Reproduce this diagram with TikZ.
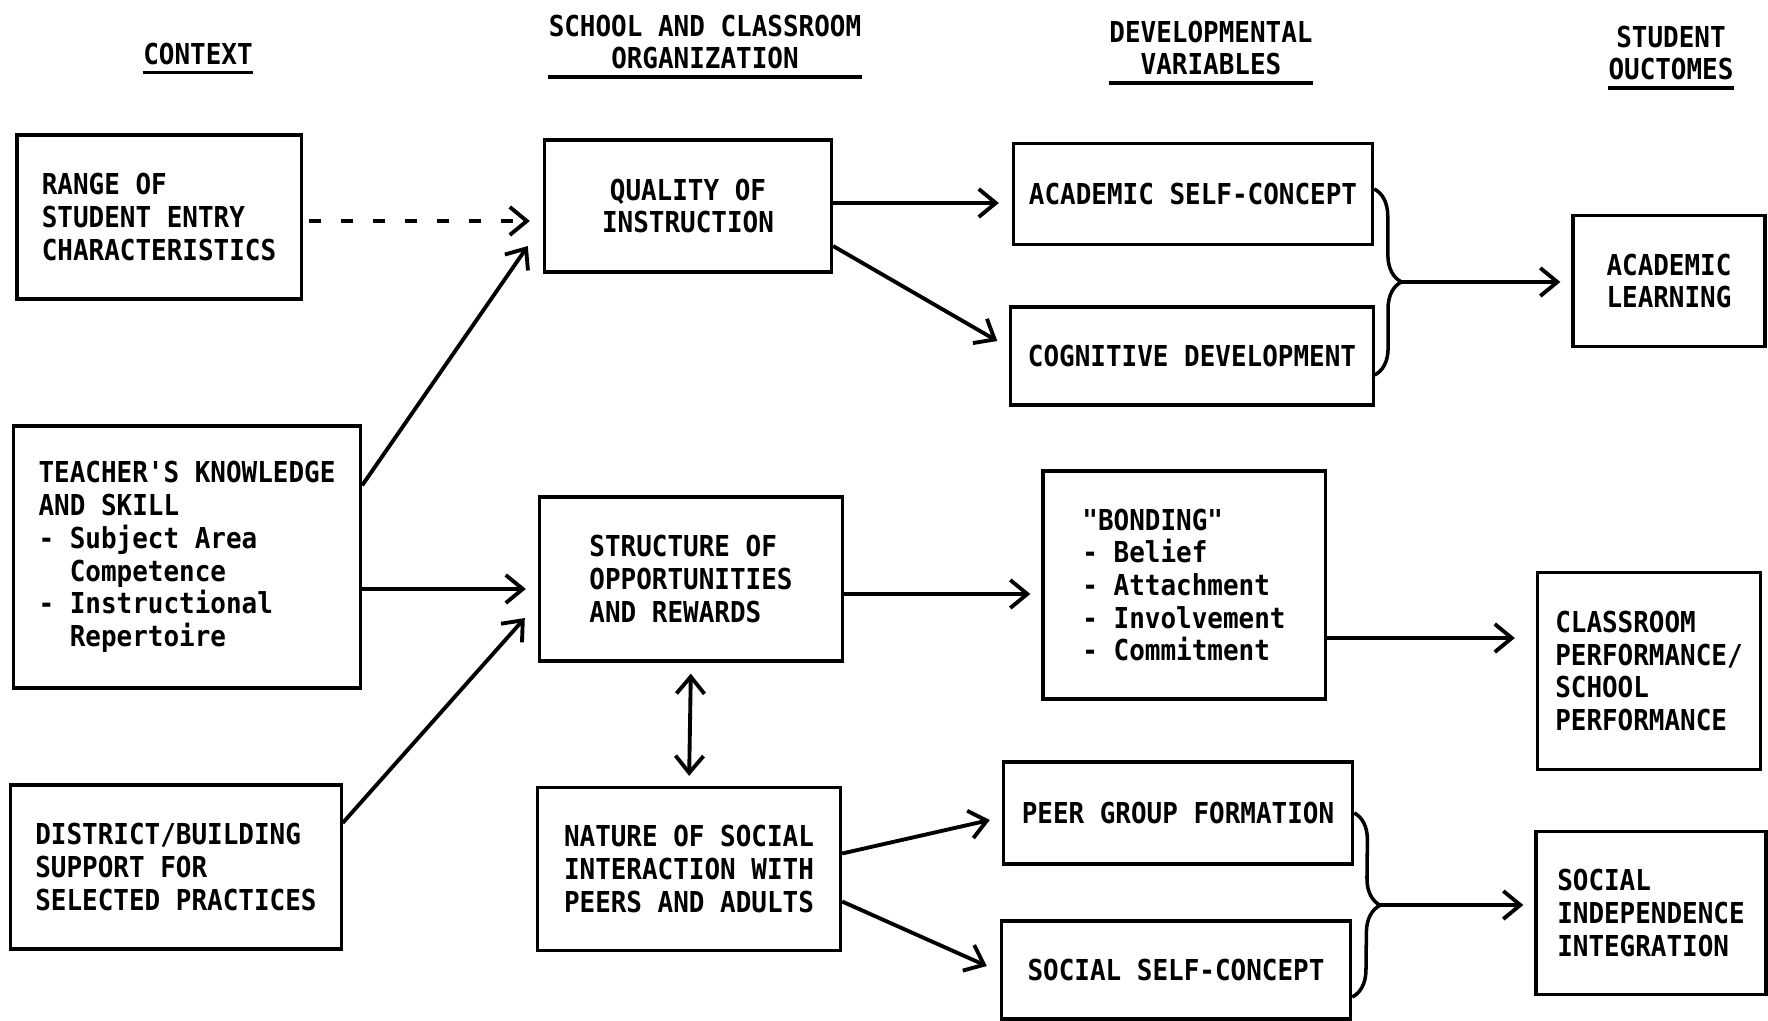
\documentclass[tikz,border=0pt]{standalone}
\usepackage{fontspec}
\newfontfamily\typewr[FakeStretch=0.9]{DejaVu Sans Mono}
\usetikzlibrary{arrows.meta,decorations.pathreplacing}
\begin{document}
\begin{tikzpicture}[x=0.01cm,y=-0.01cm,
    font=\typewr\bfseries\fontsize{8.2}{9.3}\selectfont,
    box/.style={draw,line width=0.9pt,align=left,inner sep=0pt},
    head/.style={align=center,inner xsep=0pt,inner ysep=2pt},
    arr/.style={line width=1.1pt,-{Straight Barb[length=0.17cm,width=0.28cm]}},
    twoarr/.style={line width=1.1pt,{Straight Barb[length=0.17cm,width=0.28cm]}-{Straight Barb[length=0.17cm,width=0.28cm]}},
    curly/.style={line width=1pt,decorate,decoration={brace,amplitude=0.27cm}}]
    \useasboundingbox (0,0) rectangle (1768,1021);
    \node[head] (hctx) at (198,54) {CONTEXT};
    \node[head] (hsch) at (705,42) {SCHOOL AND CLASSROOM\\ORGANIZATION};
    \node[head] (hdev) at (1211,48) {DEVELOPMENTAL\\VARIABLES};
    \node[head] (hout) at (1671,53) {STUDENT\\OUCTOMES};
    \draw[line width=0.9pt] (hctx.south west) -- (hctx.south east);
    \draw[line width=0.9pt] (hsch.south west) -- (hsch.south east);
    \draw[line width=0.9pt] (hdev.south west) -- (hdev.south east);
    \draw[line width=0.9pt] (hout.south west) -- (hout.south east);
    \node[box,minimum width=2.84cm,minimum height=1.64cm] (range) at (159,217) {RANGE OF\\STUDENT ENTRY\\CHARACTERISTICS};
    \node[box,minimum width=3.47cm,minimum height=2.62cm] (teacher) at (187,557) {TEACHER'S KNOWLEDGE\\AND SKILL\\- Subject Area\\\phantom{- }Competence\\- Instructional\\\phantom{- }Repertoire};
    \node[box,minimum width=3.30cm,minimum height=1.64cm] (district) at (176,867) {DISTRICT/BUILDING\\SUPPORT FOR\\SELECTED PRACTICES};
    \node[box,align=center,minimum width=2.87cm,minimum height=1.32cm] (quality) at (688,206) {QUALITY OF\\INSTRUCTION};
    \node[box,minimum width=3.03cm,minimum height=1.64cm] (structure) at (691,579) {STRUCTURE OF\\OPPORTUNITIES\\AND REWARDS};
    \node[box,minimum width=3.03cm,minimum height=1.63cm] (nature) at (689,869) {NATURE OF SOCIAL\\INTERACTION WITH\\PEERS AND ADULTS};
    \node[box,minimum width=3.59cm,minimum height=1.01cm] (acadself) at (1193,194) {ACADEMIC SELF-CONCEPT};
    \node[box,minimum width=3.62cm,minimum height=0.98cm] (cogdev) at (1192,356) {COGNITIVE DEVELOPMENT};
    \node[box,minimum width=2.82cm,minimum height=2.28cm] (bonding) at (1184,585) {"BONDING"\\- Belief\\- Attachment\\- Involvement\\- Commitment};
    \node[box,minimum width=3.49cm,minimum height=1.02cm] (peer) at (1178,813) {PEER GROUP FORMATION};
    \node[box,minimum width=3.49cm,minimum height=0.98cm] (socself) at (1176,970) {SOCIAL SELF-CONCEPT};
    \node[box,align=center,minimum width=1.92cm,minimum height=1.31cm] (acadlearn) at (1669,281) {ACADEMIC\\LEARNING};
    \node[box,minimum width=2.23cm,minimum height=1.97cm] (classroom) at (1649,671) {CLASSROOM\\PERFORMANCE/\\SCHOOL\\PERFORMANCE};
    \node[box,minimum width=2.30cm,minimum height=1.63cm] (socind) at (1651,913) {SOCIAL\\INDEPENDENCE\\INTEGRATION};
    \draw[arr,dash pattern=on 0.12cm off 0.2cm,shorten <=0.06cm,shorten >=0.13cm] ([yshift=-0.04cm]range.east) -- ([yshift=-0.04cm]range.east -| quality.west);
    \draw[arr] ([yshift=-0.61cm]teacher.north east) -- ([xshift=-0.15cm,yshift=-0.40cm]quality.west);
    \draw[arr] ([yshift=-0.1cm]structure.west -| teacher.east) -- ([xshift=-0.12cm,yshift=-0.1cm]structure.west);
    \draw[arr] ([yshift=0.44cm]district.east) -- ([xshift=-0.13cm,yshift=-0.39cm]structure.west);
    \draw[arr,shorten >=0.13cm] ([yshift=0.03cm]quality.east) -- ([yshift=0.03cm]quality.east -| acadself.west);
    \draw[arr] ([yshift=-0.40cm]quality.east) -- ([xshift=-0.12cm,yshift=0.15cm]cogdev.west);
    \draw[arr,shorten >=0.11cm] ([yshift=-0.15cm]structure.east) -- ([yshift=-0.15cm]structure.east -| bonding.west);
    \draw[twoarr,shorten <=0.11cm,shorten >=0.10cm] (structure.south) -- (nature.north);
    \draw[arr] ([yshift=0.155cm]nature.east) -- ([xshift=-0.12cm,yshift=-0.07cm]peer.west);
    \draw[arr] ([yshift=-0.325cm]nature.east) -- ([xshift=-0.13cm,yshift=0.04cm]socself.west);
    \draw[arr,shorten >=0.21cm] ([yshift=-0.53cm]bonding.east) -- ([yshift=-0.53cm]bonding.east -| classroom.west);
    \draw[curly] ([yshift=0.05cm]acadself.east) -- ([yshift=-0.19cm]cogdev.east) coordinate[midway,xshift=0.27cm] (tipa);
    \draw[arr,shorten >=0.11cm] (tipa) -- (tipa -| acadlearn.west);
    \draw[curly] (peer.east) -- ([yshift=-0.27cm]socself.east) coordinate[midway,xshift=0.27cm] (tipb);
    \draw[arr,shorten >=0.11cm] (tipb) -- (tipb -| socind.west);
\end{tikzpicture}
\end{document}
